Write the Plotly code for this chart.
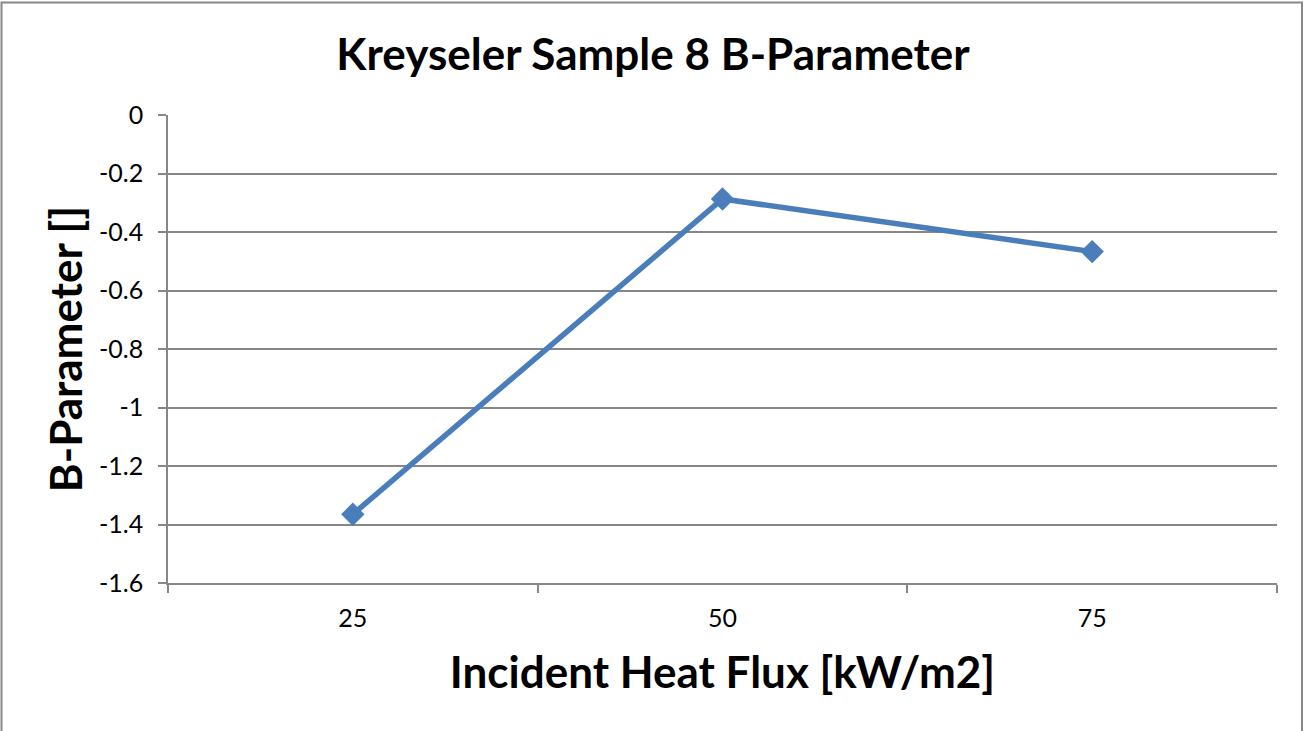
import plotly.graph_objects as go

# Incident heat flux levels (category axis) and measured B-parameter values
heat_flux = ["25", "50", "75"]
b_parameter = [-1.365, -0.287, -0.467]
y_ticks = [0, -0.2, -0.4, -0.6, -0.8, -1, -1.2, -1.4, -1.6]
y_tick_labels = ["0", "-0.2", "-0.4", "-0.6", "-0.8", "-1", "-1.2", "-1.4", "-1.6"]

W, H = 1306, 731
M_L, M_R, M_T, M_B = 168, 29, 115, 148

FONT = "Lato"
GRID = "#878787"
BLUE = "#4A7EBB"

fig = go.Figure(
    go.Scatter(
        x=heat_flux,
        y=b_parameter,
        mode="lines+markers",
        line=dict(color=BLUE, width=5.5),
        marker=dict(symbol="diamond", size=18, color=BLUE),
        showlegend=False,
    )
)

pw = W - M_L - M_R
ph = H - M_T - M_B


def px_to_paper_x(px):
    return (px - M_L) / pw


def px_to_paper_y(py):
    return (H - M_B - py) / ph


fig.update_layout(
    width=W,
    height=H,
    margin=dict(l=M_L, r=M_R, t=M_T, b=M_B, autoexpand=False),
    paper_bgcolor="white",
    plot_bgcolor="white",
    title=dict(
        text="<b>Kreyseler Sample 8 B-Parameter</b>",
        x=px_to_paper_x(653),
        xref="paper",
        xanchor="center",
        y=1 - 55 / H,
        yanchor="middle",
        font=dict(family=FONT, size=44, color="black"),
    ),
    xaxis=dict(
        type="category",
        range=[-0.5, 2.5],
        tickson="boundaries",
        ticks="outside",
        ticklen=8,
        tickwidth=1.5,
        tickcolor=GRID,
        showgrid=False,
        showline=True,
        linecolor=GRID,
        linewidth=1.5,
        zeroline=False,
        tickfont=dict(family=FONT, size=25, color="black"),
        ticklabelstandoff=12,
        title=dict(
            text="<b>Incident Heat Flux [kW/m2]</b>",
            font=dict(family=FONT, size=44, color="black"),
            standoff=26,
        ),
    ),
    yaxis=dict(
        range=[-1.6, 0],
        tickvals=y_ticks,
        ticktext=y_tick_labels,
        ticks="outside",
        ticklen=8,
        tickwidth=1.5,
        tickcolor=GRID,
        showgrid=True,
        gridcolor=GRID,
        gridwidth=1.5,
        showline=True,
        linecolor=GRID,
        linewidth=1.5,
        zeroline=False,
        tickfont=dict(family=FONT, size=25, color="black"),
        ticklabelstandoff=10,
        title=dict(
            text="<b>B-Parameter []</b>",
            font=dict(family=FONT, size=44, color="black"),
            standoff=3,
        ),
    ),
    shapes=[
        dict(
            type="rect",
            xref="paper",
            yref="paper",
            x0=px_to_paper_x(1.5),
            x1=px_to_paper_x(1302),
            y0=px_to_paper_y(740),
            y1=px_to_paper_y(2.5),
            line=dict(color="#888888", width=2),
            fillcolor="rgba(0,0,0,0)",
            layer="below",
        )
    ],
)

fig.write_html("out.html")
